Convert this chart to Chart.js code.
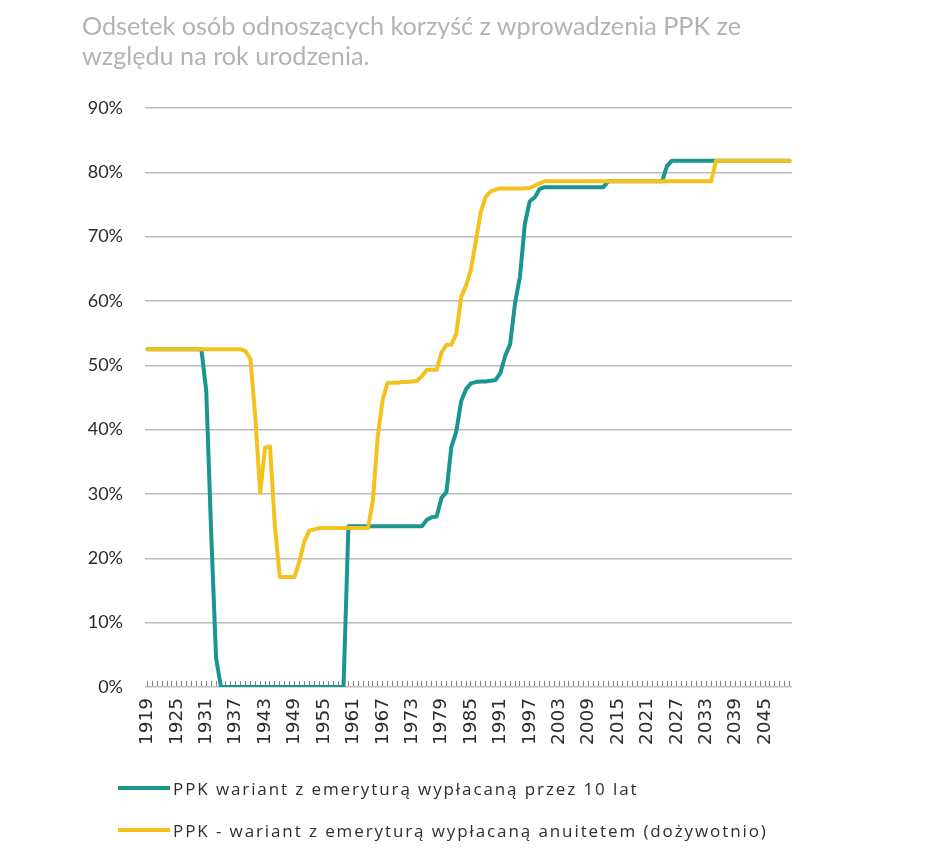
<!DOCTYPE html>
<html lang="pl">
<head>
<meta charset="utf-8">
<script src="https://cdn.jsdelivr.net/npm/chart.js@4.4.1/dist/chart.umd.min.js"></script>
<style>
  html, body { margin: 0; padding: 0; background: #fff; }
  #wrap { position: relative; width: 945px; height: 858px; overflow: hidden; }
  #chart { position: absolute; left: 0; top: 0; }
  #title {
    position: absolute; left: 82px; top: 10px;
    font-family: Lato; font-size: 25.2px; line-height: 30px; color: #b3b3b3;
  }
  #legend {
    position: absolute; left: 118px; top: 767px;
    font-family: "Open Sans"; font-size: 17px; letter-spacing: 1.9px; color: #2e2e2e;
  }
  .item { display: flex; align-items: center; height: 42px; white-space: nowrap; }
  .swatch { width: 52px; height: 4px; margin-right: 3px; }
</style>
</head>
<body>
<div id="wrap">
  <canvas id="chart" width="945" height="858"></canvas>
  <div id="title">Odsetek osób odnoszących korzyść z wprowadzenia PPK ze<br>względu na rok urodzenia.</div>
  <div id="legend"></div>
</div>
<script>
// birth years on the x axis, one category per year
const years = [];
for (let y = 1919; y <= 2050; y++) years.push(String(y));

// years that get a printed label
const shownYears = ['1919','1925','1931','1937','1943','1949','1955','1961','1967','1973','1979',
  '1985','1991','1997','2003','2009','2015','2021','2027','2033','2039','2045'];

// PPK - pension paid out over 10 years (%)
const tenYearValues = [
  52.5,52.5,52.5,52.5,52.5,52.5,52.5,52.5,52.5,52.5,52.5,52.5,   // 1919-1930
  46,24,4.5,0,0,0,0,0,0,0,                                       // 1931-1940
  0,0,0,0,0,0,0,0,0,0,                                           // 1941-1950
  0,0,0,0,0,0,0,0,0,25,                                          // 1951-1960
  25,25,25,25,25,25,25,25,25,25,                                 // 1961-1970
  25,25,25,25,25,26,26.4,26.5,29.4,30.3,                         // 1971-1980
  37.3,39.7,44.4,46.3,47.2,47.4,47.5,47.5,47.6,47.7,             // 1981-1990
  48.8,51.5,53.3,59.7,63.8,72,75.5,76.1,77.4,77.7,               // 1991-2000
  77.7,77.7,77.7,77.7,77.7,77.7,77.7,77.7,77.7,77.7,             // 2001-2010
  77.7,77.7,78.6,78.6,78.6,78.6,78.6,78.6,78.6,78.6,             // 2011-2020
  78.6,78.6,78.6,78.6,81,81.8,81.8,81.8,81.8,81.8,               // 2021-2030
  81.8,81.8,81.8,81.8,81.8,81.8,81.8,81.8,81.8,81.8,             // 2031-2040
  81.8,81.8,81.8,81.8,81.8,81.8,81.8,81.8,81.8,81.8              // 2041-2050
];

// PPK - lifetime annuity (%)
const annuityValues = [
  52.5,52.5,52.5,52.5,52.5,52.5,52.5,52.5,52.5,52.5,52.5,52.5,   // 1919-1930
  52.5,52.5,52.5,52.5,52.5,52.5,52.5,52.5,52.2,51,               // 1931-1940
  42,30.2,37.2,37.4,25,17.1,17.1,17.1,17.1,19.5,                 // 1941-1950
  22.6,24.3,24.5,24.7,24.7,24.7,24.7,24.7,24.7,24.7,             // 1951-1960
  24.7,24.7,24.7,24.7,29,39.1,44.7,47.3,47.3,47.3,               // 1961-1970
  47.4,47.4,47.5,47.6,48.3,49.3,49.3,49.3,52,53.2,               // 1971-1980
  53.2,54.9,60.6,62.4,64.9,69.3,73.8,76.2,77,77.3,               // 1981-1990
  77.5,77.5,77.5,77.5,77.5,77.5,77.6,77.9,78.3,78.6,             // 1991-2000
  78.6,78.6,78.6,78.6,78.6,78.6,78.6,78.6,78.6,78.6,             // 2001-2010
  78.6,78.6,78.6,78.6,78.6,78.6,78.6,78.6,78.6,78.6,             // 2011-2020
  78.6,78.6,78.6,78.6,78.6,78.6,78.6,78.6,78.6,78.6,             // 2021-2030
  78.6,78.6,78.6,78.6,81.8,81.8,81.8,81.8,81.8,81.8,             // 2031-2040
  81.8,81.8,81.8,81.8,81.8,81.8,81.8,81.8,81.8,81.8              // 2041-2050
];

const seriesNames = [
  'PPK wariant z emeryturą wypłacaną przez 10 lat',
  'PPK - wariant z emeryturą wypłacaną anuitetem (dożywotnio)'
];
const seriesColors = ['#1b9591', '#f4c21c'];

Chart.defaults.font.family = 'Lato';
Chart.defaults.color = '#333';

const chart = new Chart(document.getElementById('chart'), {
  type: 'line',
  data: {
    labels: years,
    datasets: [
      { label: seriesNames[0], data: tenYearValues, borderColor: seriesColors[0], backgroundColor: seriesColors[0], order: 1 },
      { label: seriesNames[1], data: annuityValues, borderColor: seriesColors[1], backgroundColor: seriesColors[1], order: 0 }
    ]
  },
  options: {
    responsive: false,
    animation: false,
    elements: {
      line: { borderWidth: 4, tension: 0, borderJoinStyle: 'round', borderCapStyle: 'round' },
      point: { radius: 0, hoverRadius: 0 }
    },
    layout: { padding: { left: 65, right: 153, top: 108, bottom: 0 } },
    plugins: {
      legend: { display: false },
      title: { display: false },
      tooltip: { enabled: false }
    },
    scales: {
      x: {
        type: 'category',
        offset: true,
        afterFit(s) { s.height = 171; },
        border: { display: false },
        grid: { drawOnChartArea: false, drawTicks: true, tickLength: -6, color: '#808080', lineWidth: 1 },
        ticks: {
          autoSkip: false,
          minRotation: 90,
          maxRotation: 90,
          padding: 17,
          font: { family: 'DejaVu Sans', size: 18.5 },
          color: '#2b2b2b',
          callback(value) {
            const lab = this.getLabelForValue(value);
            return shownYears.includes(lab) ? lab : '';
          }
        }
      },
      y: {
        min: 0,
        max: 90,
        afterFit(s) { s.width = 80; },
        border: { display: false },
        grid: { color: '#bcbcbc', lineWidth: 1.5, drawTicks: false },
        ticks: {
          stepSize: 10,
          padding: 22,
          font: { size: 18 },
          color: '#2b2b2b',
          callback: v => v + '%'
        }
      }
    }
  }
});

// legend built from the datasets, stacked like the original
const legendEl = document.getElementById('legend');
chart.data.datasets.forEach(ds => {
  const row = document.createElement('div');
  row.className = 'item';
  const sw = document.createElement('span');
  sw.className = 'swatch';
  sw.style.background = ds.borderColor;
  const txt = document.createElement('span');
  txt.textContent = ds.label;
  row.appendChild(sw);
  row.appendChild(txt);
  legendEl.appendChild(row);
});
</script>
</body>
</html>
